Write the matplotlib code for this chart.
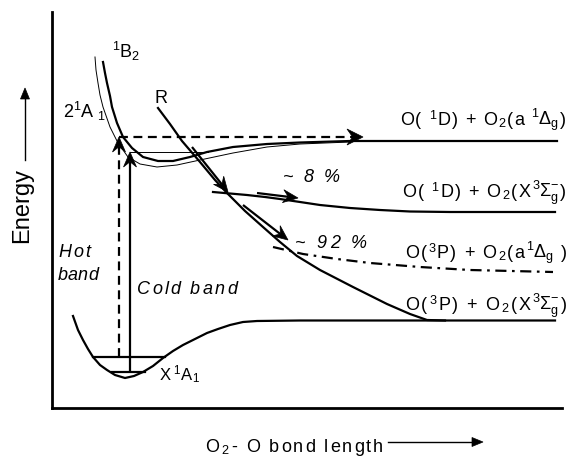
import numpy as np
import matplotlib
matplotlib.use("Agg")
import matplotlib.pyplot as plt
from matplotlib.patches import Polygon
from matplotlib.textpath import TextToPath
from matplotlib.font_manager import FontProperties

plt.rcParams['font.family'] = ['Liberation Sans', 'DejaVu Sans']
plt.rcParams['mathtext.fontset'] = 'custom'
plt.rcParams['mathtext.rm'] = 'Liberation Sans'
plt.rcParams['mathtext.it'] = 'Liberation Sans:italic'
plt.rcParams['mathtext.bf'] = 'Liberation Sans:bold'

# ---- schematic potential curves (x: O2-O bond length, e: energy; arbitrary units) ----
ground_x = [73, 78, 83, 88, 93, 100, 107, 115, 125, 134, 143, 153, 163, 173, 183, 195, 207, 218, 230, 243, 257, 300, 555]
ground_e = [92, 78, 68, 59, 51, 43, 38, 33, 30, 32, 36, 42, 50, 57, 63, 69, 75, 79, 83, 86, 87, 87.5, 87.5]

b2_x = [103, 105, 107, 110, 112, 117, 123, 132, 143, 158, 173, 190, 207, 233, 267, 300, 350, 557]
b2_e = [346, 335, 325, 312, 301, 285, 271, 260, 251, 247, 247, 251, 256, 261, 264, 265.5, 267, 267]

a1_x = [95, 96, 98, 100, 103, 110, 118, 128, 140, 157, 177, 200, 233, 267, 300, 350]
a1_e = [351, 338, 325, 313, 301, 281, 265, 251, 244, 241, 243, 248, 255, 261, 264, 266]

r_x = [158, 170, 182, 200, 215, 227, 245, 263, 280, 297, 320, 353, 387, 410, 427, 445]
r_e = [300, 284, 267, 246, 228, 215, 197, 181, 166, 152, 138, 121, 104, 94, 88, 87.5]

o1d_x = [213, 230, 247, 265, 280, 300, 320, 350, 380, 410, 450, 555]
o1d_e = [216, 214.5, 213, 211, 209, 206, 203, 200, 198, 196.5, 196, 196]

o3pa_x = [273, 303, 337, 370, 420, 470, 553]
o3pa_e = [161, 154, 149, 145, 141, 138, 136]

# vibrational levels of the ground state: (x_start, x_end, energy)
vib_levels = [(93, 165, 51), (112, 145, 36)]

# excitation (hot band dashed, cold band solid): x, e_start, e_end
hot_band = (119, 51, 271)
cold_band = (130, 36, 256)

# dissociation-path arrows: (x0, e0, x1, e1)
path_arrows = [(192, 261, 228, 216), (243, 203, 288, 168), (257, 215, 298, 210)]

asymptote_tokens = [
    ["O", "(", " ", "$^1$", "D", ")", " ", "+", " ", "O", r"$_2$", "(", "a", " ", r"$^1\Delta_{\mathrm{g}}$", ")"],
    ["O", "(", " ", "$^1$", "D", ")", " ", "+", " ", "O", r"$_2$", "(", "X", r"$^3\Sigma_{\mathrm{g}}^{-}$", ")"],
    ["O", "(", "$^3$", "P", ")", " ", "+", " ", "O", r"$_2$", "(", "a", r"$^1\Delta_{\mathrm{g}}$", " ", ")"],
    ["O", "(", "$^3$", "P", ")", " ", "+", " ", "O", r"$_2$", "(", "X", r"$^3\Sigma_{\mathrm{g}}^{-}$", ")"],
]
# (x, baseline energy, total width)
asymptote_pos = [(400, 283, 166), (402, 211, 164), (405, 150, 162), (405, 98, 162)]

W, H = 571, 459
fig = plt.figure(figsize=(W / 100, H / 100), dpi=100)
ax = fig.add_axes([52 / W, (H - 408) / H, (562 - 52) / W, (408 - 12) / H])
ax.set_xlim(52, 562)
ax.set_ylim(0, 396)
ax.set_xticks([])
ax.set_yticks([])
for s in ['top', 'right']:
    ax.spines[s].set_visible(False)
for s in ['left', 'bottom']:
    ax.spines[s].set_linewidth(2.0)

thick = 1.6
thin = 0.7
k = 'black'

ax.plot(ground_x, ground_e, color=k, lw=thick)
ax.plot(b2_x, b2_e, color=k, lw=thick)
ax.plot(a1_x, a1_e, color=k, lw=thin)
ax.plot(r_x, r_e, color=k, lw=thick)
ax.plot(o1d_x, o1d_e, color=k, lw=thick)
ax.plot(o3pa_x, o3pa_e, color=k, lw=thick, dashes=(5, 2.5, 1.2, 2.5))

for x0, x1, e in vib_levels:
    ax.plot([x0, x1], [e, e], color=k, lw=thick)

ax.plot([cold_band[0], 208], [cold_band[2], cold_band[2]], color=k, lw=thin)


def head(x0, e0, x1, e1, L=15.0, Wh=6.5, notch=0.35, draw_shaft=True, lw=thick, dashes=None):
    """Swept-back arrow; data units are 1 px in both directions."""
    d = np.array([x1 - x0, e1 - e0], float)
    d /= np.hypot(*d)
    n = np.array([-d[1], d[0]])
    tip = np.array([x1, e1], float)
    back = tip - L * d
    pts = [tip, back + Wh * n, tip - (1 - notch) * L * d, back - Wh * n]
    if draw_shaft:
        end = tip - (1 - notch) * L * d
        kw = dict(color=k, lw=lw, solid_capstyle='butt')
        if dashes:
            kw['dashes'] = dashes
        ax.plot([x0, end[0]], [e0, end[1]], clip_on=False, **kw)
    ax.add_patch(Polygon(pts, closed=True, facecolor=k, edgecolor=k, lw=0.5, clip_on=False))


# hot band (dashed) vertical + horizontal
hx, he0, he1 = hot_band
head(hx, he0, hx, he1, dashes=(4, 2.5))
head(hx, he1, 363, he1, L=16, Wh=8, dashes=(4, 2.5))

# cold band (solid)
cx, ce0, ce1 = cold_band
head(cx, ce0, cx, ce1)

for x0, e0, x1, e1 in path_arrows:
    head(x0, e0, x1, e1)

_t2p = TextToPath()
PX = 100 / 72


def advance(tok, fp):
    if '$' in tok:
        w, _, _ = _t2p.get_text_width_height_descent(tok, fp, ismath=True)
        return w * PX
    w1, _, _ = _t2p.get_text_width_height_descent('|' + tok + '|', fp, ismath=False)
    w0, _, _ = _t2p.get_text_width_height_descent('||', fp, ismath=False)
    return (w1 - w0) * PX


def tracked(x, e, tokens, size, width=None, style='normal'):
    fp = FontProperties(family='Liberation Sans', size=size, style=style)
    advs = [advance(t, fp) for t in tokens]
    track = 0.0
    if width is not None and len(tokens) > 1:
        track = (width - sum(advs)) / (len(tokens) - 1)
    cur = x
    for t, a in zip(tokens, advs):
        if t.strip():
            ax.text(cur, e, t, fontproperties=fp, va='baseline', clip_on=False)
        cur += a + track


fs = 13
ax.text(112, 350, r"$^1$B$_2$", fontsize=fs, va='baseline')
ax.text(63, 290, r"2$^1$A $_1$", fontsize=fs, va='baseline')
ax.text(155, 305, "R", fontsize=fs, va='baseline')
# X 1A 1 label (pieces placed as in the reference)
ax.text(160, 28, "X", fontsize=12, va='baseline')
ax.text(173, 28, r"$^1$A", fontsize=12, va='baseline')
ax.text(192, 28, r"$_1$", fontsize=12, va='baseline')

tracked(283, 226, list("~ 8 %"), fs, width=57, style='italic')
tracked(295, 160, list("~ 92 %"), fs, width=72, style='italic')
tracked(58, 151, list("Hot"), fs, width=32, style='italic')
tracked(58, 128, list("band"), fs, width=40, style='italic')
tracked(137, 114, list("Cold band"), fs, width=100, style='italic')

for toks, (x, e, w) in zip(asymptote_tokens, asymptote_pos):
    tracked(x, e, toks, fs, width=w)

# axis labels with arrows
ax.text(22, 165, "Energy", fontsize=17, rotation=90, ha='center', va='bottom', clip_on=False)
ax.plot([25, 25], [248, 312], color=k, lw=1.0, clip_on=False)
head(25, 300, 25, 320, L=11, Wh=4.5, notch=0.0, draw_shaft=False)

tracked(205, -44, ["O", "$_2$", "-", " ", "O", " "] + list("bond length"), fs, width=178)
ax.plot([388, 475], [-34, -34], color=k, lw=1.0, clip_on=False)
head(470, -34, 483, -34, L=11, Wh=4.5, notch=0.0, draw_shaft=False)

fig.savefig("out.png", dpi=100)
